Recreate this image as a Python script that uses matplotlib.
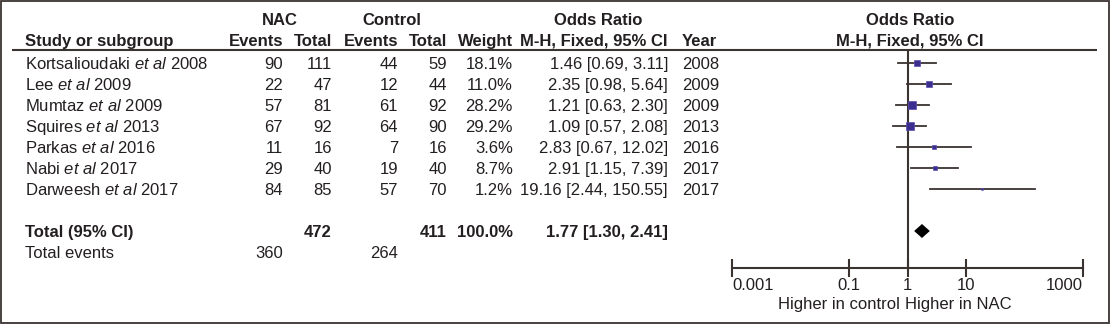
import matplotlib
matplotlib.use("Agg")
import matplotlib.pyplot as plt
from matplotlib.patches import Rectangle

plt.rcParams['font.family'] = ['Liberation Sans', 'DejaVu Sans']
plt.rcParams['mathtext.fontset'] = 'custom'
plt.rcParams['mathtext.rm'] = 'Liberation Sans'
plt.rcParams['mathtext.it'] = 'Liberation Sans:italic'

# data
studies = ["Kortsalioudaki", "Lee", "Mumtaz", "Squires", "Parkas", "Nabi", "Darweesh"]
years = [2008, 2009, 2009, 2013, 2016, 2017, 2017]
nac_events = [90, 22, 57, 67, 11, 29, 84]
nac_total = [111, 47, 81, 92, 16, 40, 85]
ctl_events = [44, 12, 61, 64, 7, 19, 57]
ctl_total = [59, 44, 92, 90, 16, 40, 70]
weights = [18.1, 11.0, 28.2, 29.2, 3.6, 8.7, 1.2]
odds = [1.46, 2.35, 1.21, 1.09, 2.83, 2.91, 19.16]
ci_lo = [0.69, 0.98, 0.63, 0.57, 0.67, 1.15, 2.44]
ci_hi = [3.11, 5.64, 2.30, 2.08, 12.02, 7.39, 150.55]

total_nac = 472
total_ctl = 411
total_or, total_lo, total_hi = 1.77, 1.30, 2.41
events_nac = 360
events_ctl = 264

ticks = [0.001, 0.1, 1, 10, 1000]
tick_labels = ["0.001", "0.1", "1", "10", "1000"]

W, H = 1110, 324
ink = '#231f20'
line_c = '#3a3330'
sq_c = '#3b2e8e'
fs = 12
bl = 6  # baseline offset below text centre (px)

fig = plt.figure(figsize=(W / 100, H / 100), dpi=100)
ax = fig.add_axes([0, 0, 1, 1])
ax.set_xlim(0, W)
ax.set_ylim(H, 0)
ax.axis('off')

# outer frame
ax.add_patch(Rectangle((0.8, 0.8), W - 1.6, H - 1.6, fill=False, ec=line_c, lw=1.3))

row0, dy = 63, 21
rows = [row0 + i * dy for i in range(len(studies))]
row_total = row0 + 8 * dy
row_events = row0 + 9 * dy

# header
bold = dict(fontsize=fs, fontweight='bold', color=ink, va='baseline')
norm = dict(fontsize=fs, color=ink, va='baseline')
ax.text(280, 19 + bl, "NAC", ha='center', **bold)
ax.text(392, 19 + bl, "Control", ha='center', **bold)
ax.text(598, 19 + bl, "Odds Ratio", ha='center', **bold)
ax.text(910, 19 + bl, "Odds Ratio", ha='center', **bold)
ax.text(25, 40 + bl, "Study or subgroup", ha='left', **bold)
ax.text(283, 40 + bl, "Events", ha='right', **bold)
ax.text(332, 40 + bl, "Total", ha='right', **bold)
ax.text(398, 40 + bl, "Events", ha='right', **bold)
ax.text(447, 40 + bl, "Total", ha='right', **bold)
ax.text(513, 40 + bl, "Weight", ha='right', **bold)
ax.text(668, 40 + bl, "M-H, Fixed, 95% CI", ha='right', **bold)
ax.text(682, 40 + bl, "Year", ha='left', **bold)
ax.text(910, 40 + bl, "M-H, Fixed, 95% CI", ha='center', **bold)
ax.plot([12, 1097], [49.5, 49.5], color=line_c, lw=1.5, solid_capstyle='butt')

for i, y in enumerate(rows):
    y = y + bl
    ax.text(25, y, studies[i] + r" $\it{et\ al}$ " + str(years[i]), ha='left', **norm)
    ax.text(283, y, str(nac_events[i]), ha='right', **norm)
    ax.text(332, y, str(nac_total[i]), ha='right', **norm)
    ax.text(398, y, str(ctl_events[i]), ha='right', **norm)
    ax.text(447, y, str(ctl_total[i]), ha='right', **norm)
    ax.text(513, y, "%.1f%%" % weights[i], ha='right', **norm)
    ax.text(668, y, "%.2f [%.2f, %.2f]" % (odds[i], ci_lo[i], ci_hi[i]), ha='right', **norm)
    ax.text(682, y, str(years[i]), ha='left', **norm)

ax.text(25, row_total + bl, "Total (95% CI)", ha='left', **bold)
ax.text(332, row_total + bl, str(total_nac), ha='right', **bold)
ax.text(447, row_total + bl, str(total_ctl), ha='right', **bold)
ax.text(513, row_total + bl, "%.1f%%" % sum(weights), ha='right', **bold)
ax.text(668, row_total + bl, "%.2f [%.2f, %.2f]" % (total_or, total_lo, total_hi), ha='right', **bold)
ax.text(25, row_events + bl, "Total events", ha='left', **norm)
ax.text(283, row_events + bl, str(events_nac), ha='right', **norm)
ax.text(398, row_events + bl, str(events_ctl), ha='right', **norm)

# forest panel
x0, x1 = 732.3, 1082.7
ytop, ybot = 49, 268
fx = fig.add_axes([x0 / W, 1 - ybot / H, (x1 - x0) / W, (ybot - ytop) / H])
fx.set_xscale('log')
fx.set_xlim(ticks[0], ticks[-1])
fx.set_ylim(ybot, ytop)
fx.patch.set_alpha(0)
for s in ['top', 'right', 'left']:
    fx.spines[s].set_visible(False)
fx.spines['bottom'].set_color(line_c)
fx.spines['bottom'].set_linewidth(1.5)
fx.set_yticks([])
fx.set_xticks(ticks)
fx.set_xticklabels(tick_labels, fontsize=fs, color=ink)
fx.xaxis.set_minor_locator(matplotlib.ticker.NullLocator())
fx.tick_params(axis='x', direction='inout', length=13, width=1.5, color=line_c, pad=1)
labs = fx.get_xticklabels()
labs[0].set_ha('left')
labs[-1].set_ha('right')

fx.axvline(1, color=line_c, lw=1.5)
for i, y in enumerate(rows):
    fx.plot([ci_lo[i], ci_hi[i]], [y, y], color=line_c, lw=1.3)
    side = 1.6 * weights[i] ** 0.5 * 0.72
    fx.plot(odds[i], y, marker='s', ms=side, color=sq_c, mec='#5a4fb0', mew=0.5)

hh = 7
fx.fill([total_lo, total_or, total_hi, total_or], [row_total, row_total - hh, row_total, row_total + hh],
        color='black', lw=0)

ax.text(900, 303 + bl, "Higher in control", ha='right', **norm)
ax.text(905, 303 + bl, "Higher in NAC", ha='left', **norm)

fig.savefig("out.png", dpi=100)
